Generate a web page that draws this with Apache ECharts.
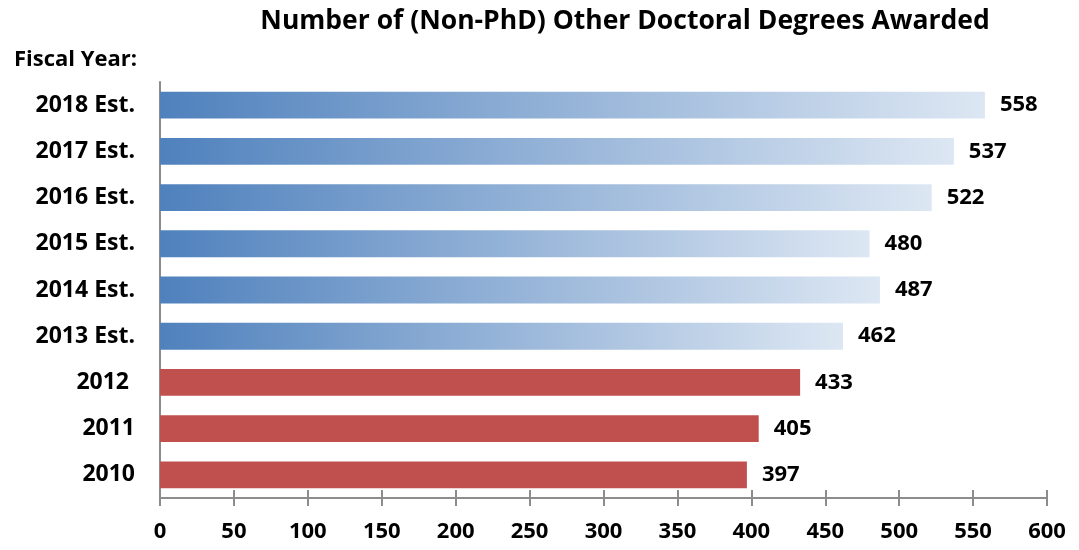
<!DOCTYPE html>
<html>
<head>
<meta charset="utf-8">
<script src="https://cdn.jsdelivr.net/npm/echarts@6/dist/echarts.min.js"></script>
<style>
  html, body { margin: 0; padding: 0; background: #fff; }
  #main { width: 1079px; height: 550px; }
</style>
</head>
<body>
<div id="main"></div>
<script>
var myChart = echarts.init(document.getElementById('main'));

// bottom to top, as the category axis runs upward
var years = ['2010', '2011', '2012 ', '2013 Est.', '2014 Est.', '2015 Est.', '2016 Est.', '2017 Est.', '2018 Est.'];
var degrees = [397, 405, 433, 462, 487, 480, 522, 537, 558];
var estimated = [false, false, false, true, true, true, true, true, true];
var xTicks = [0, 600, 50];

var font = 'Open Sans';
var blueFill = new echarts.graphic.LinearGradient(0, 0, 1, 0, [
    { offset: 0, color: '#4f81bd' },
    { offset: 1, color: '#dde7f3' }
]);

var barData = degrees.map(function (v, i) {
    return {
        value: v,
        itemStyle: { color: estimated[i] ? blueFill : '#c0504d' }
    };
});

var axisBase = {
    type: 'value',
    min: xTicks[0],
    max: xTicks[1],
    interval: xTicks[2],
    position: 'bottom',
    splitLine: { show: false },
    axisLine: { show: true, lineStyle: { color: '#8c8c8c', width: 2 } }
};

option = {
    animation: false,
    title: [{
        text: 'Number of (Non-PhD) Other Doctoral Degrees Awarded',
        left: 620,
        top: 3,
        textAlign: 'center',
        textStyle: { fontFamily: font, fontWeight: 'bold', fontSize: 26.5, color: '#000' }
    }, {
        text: 'Fiscal Year:',
        left: 9,
        top: 44,
        textStyle: { fontFamily: font, fontWeight: 'bold', fontSize: 22, color: '#000' }
    }],
    grid: { left: 160, right: 32, top: 82, bottom: 52 },
    xAxis: [
        Object.assign({}, axisBase, {
            axisTick: { show: true, inside: false, length: 8, lineStyle: { color: '#8c8c8c', width: 2 } },
            axisLabel: { margin: 23, fontFamily: font, fontWeight: 'bold', fontSize: 22, color: '#000' }
        }),
        Object.assign({}, axisBase, {
            axisTick: { show: true, inside: true, length: 8, lineStyle: { color: '#8c8c8c', width: 2 } },
            axisLabel: { show: false }
        })
    ],
    yAxis: {
        type: 'category',
        data: years,
        axisLine: { show: true, lineStyle: { color: '#8c8c8c', width: 2 } },
        axisTick: { show: false },
        axisLabel: { margin: 25, fontFamily: font, fontWeight: 'bold', fontSize: 23, color: '#000' }
    },
    series: [{
        type: 'bar',
        xAxisIndex: 0,
        data: barData,
        barCategoryGap: '42%',
        label: {
            show: true,
            position: 'right',
            distance: 15,
            fontFamily: font,
            fontWeight: 'bold',
            fontSize: 22,
            color: '#000'
        }
    }]
};

myChart.setOption(option);
</script>
</body>
</html>
